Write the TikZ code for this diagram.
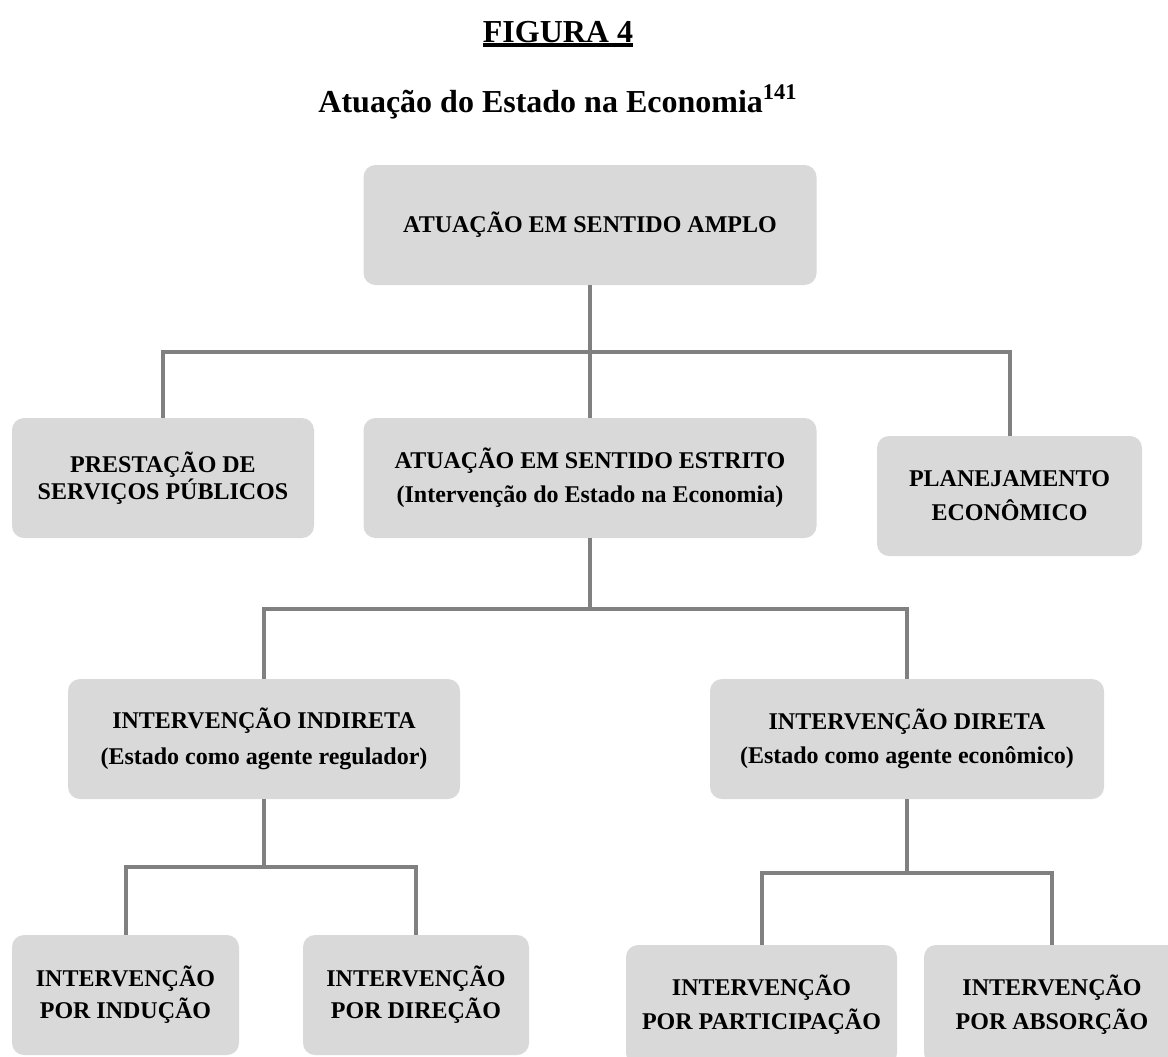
\documentclass[tikz,border=0pt]{standalone}
\usepackage{fontspec}
\setmainfont{Liberation Serif}
\usepackage{tikz}

\definecolor{boxgray}{HTML}{D9D9D9}
\definecolor{linegray}{HTML}{808080}

% thick underline for the figure number
\newcommand{\thickuline}[1]{\leavevmode\setbox0=\hbox{#1}\copy0\kern-\wd0\rule[-2.5pt]{\wd0}{1.8pt}}

\begin{document}
\begin{tikzpicture}[
    x=0.5pt, y=-0.5pt,
    box/.style={rectangle, rounded corners=6pt, fill=boxgray, align=center,
        font=\fontsize{12pt}{17pt}\selectfont\bfseries, minimum height=60pt, inner sep=2pt},
    heading/.style={anchor=base, font=\fontsize{16pt}{19pt}\selectfont\bfseries},
    link/.style={draw=linegray, line width=2pt}
]
\useasboundingbox (0,0) rectangle (1168,1056);

% titles
\node[heading] (fig) at (558,42)  {\thickuline{FIGURA 4}};
\node[heading] (sub) at (558,112) {Atuação do Estado na Economia\textsuperscript{141}};

% first level
\node[box, minimum width=226.5pt] (amplo) at (590,225) {ATUAÇÃO EM SENTIDO AMPLO};

% second level
\node[box, minimum width=151pt]   (prest)   at (163,478)    {PRESTAÇÃO DE\\[-3.5pt] SERVIÇOS PÚBLICOS};
\node[box, minimum width=226.5pt] (estrito) at (590,478)    {ATUAÇÃO EM SENTIDO ESTRITO\\ (Intervenção do Estado na Economia)};
\node[box, minimum width=132.5pt] (planej)  at (1009.5,496) {PLANEJAMENTO\\ ECONÔMICO};

% third level
\node[box, minimum width=196pt] (indireta) at (264,739) {INTERVENÇÃO INDIRETA\\[1pt] (Estado como agente regulador)};
\node[box, minimum width=197pt] (direta)   at (907,739) {INTERVENÇÃO DIRETA\\ (Estado como agente econômico)};

% fourth level
\node[box, minimum width=113.5pt] (inducao)  at (125.5,995)  {INTERVENÇÃO\\[-1pt] POR INDUÇÃO};
\node[box, minimum width=113pt]   (direcao)  at (416,995)    {INTERVENÇÃO\\[-1pt] POR DIREÇÃO};
\node[box, minimum width=135.5pt] (particip) at (761.5,1005) {INTERVENÇÃO\\ POR PARTICIPAÇÃO};
\node[box, minimum width=128pt]   (absorcao) at (1052,1005)  {INTERVENÇÃO\\ POR ABSORÇÃO};

% bus points
\coordinate (bus1) at (590,352);
\coordinate (bus2) at (590,609);
\coordinate (bus3) at (264,867);
\coordinate (bus4) at (907,873);

% amplo -> second level
\draw[link] (amplo) -- (bus1);
\draw[link] (bus1) -| (prest);
\draw[link] (bus1) -- (estrito);
\draw[link] (bus1) -| (planej);

% estrito -> indireta / direta
\draw[link] (estrito) -- (bus2);
\draw[link] (bus2) -| (indireta);
\draw[link] (bus2) -| (direta);

% indireta -> inducao / direcao
\draw[link] (indireta) -- (bus3);
\draw[link] (bus3) -| (inducao);
\draw[link] (bus3) -| (direcao);

% direta -> particip / absorcao
\draw[link] (direta) -- (bus4);
\draw[link] (bus4) -| (particip);
\draw[link] (bus4) -| (absorcao);

\end{tikzpicture}
\end{document}
